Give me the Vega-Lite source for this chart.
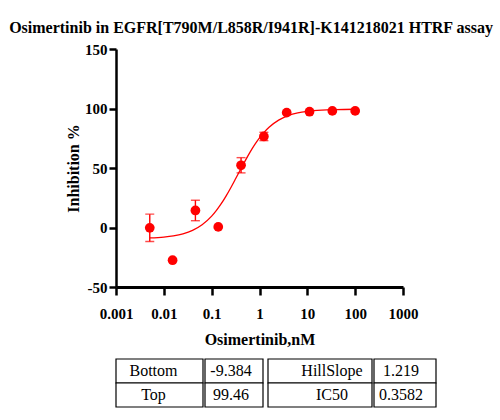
{
  "$schema": "https://vega.github.io/schema/vega-lite/v6.json",
  "background": "white",
  "padding": {"left": 8, "top": 20, "right": 5, "bottom": 5},
  "title": {"text": "Osimertinib in EGFR[T790M/L858R/I941R]-K141218021 HTRF assay", "font": "Liberation Serif", "fontSize": 16, "fontWeight": "bold", "color": "black", "anchor": "middle", "offset": 6},
  "datasets": {
    "points": [
      {"conc": 0.00508, "inhib": -0.3, "err": 11.5},
      {"conc": 0.01524, "inhib": -27.5, "err": 0},
      {"conc": 0.04572, "inhib": 14.3, "err": 8.6},
      {"conc": 0.1372, "inhib": 0.5, "err": 0},
      {"conc": 0.4115, "inhib": 52.3, "err": 6.4},
      {"conc": 1.235, "inhib": 76.5, "err": 3.5},
      {"conc": 3.704, "inhib": 96.5, "err": 0},
      {"conc": 11.11, "inhib": 97.3, "err": 0},
      {"conc": 33.33, "inhib": 98.0, "err": 0},
      {"conc": 100, "inhib": 98.0, "err": 0}
    ],
    "curve": [
      {"conc": 0.00508, "inhib": -8.78},
      {"conc": 0.01, "inhib": -8.01},
      {"conc": 0.01585, "inhib": -7.0},
      {"conc": 0.02512, "inhib": -5.28},
      {"conc": 0.03981, "inhib": -2.39},
      {"conc": 0.0631, "inhib": 2.32},
      {"conc": 0.1, "inhib": 9.59},
      {"conc": 0.1259, "inhib": 14.4},
      {"conc": 0.1585, "inhib": 20.02},
      {"conc": 0.1995, "inhib": 26.42},
      {"conc": 0.2512, "inhib": 33.45},
      {"conc": 0.3162, "inhib": 40.92},
      {"conc": 0.3981, "inhib": 48.55},
      {"conc": 0.5012, "inhib": 56.03},
      {"conc": 0.631, "inhib": 63.11},
      {"conc": 0.7943, "inhib": 69.56},
      {"conc": 1.0, "inhib": 75.25},
      {"conc": 1.259, "inhib": 80.13},
      {"conc": 1.585, "inhib": 84.19},
      {"conc": 2.512, "inhib": 90.19},
      {"conc": 3.981, "inhib": 93.97},
      {"conc": 6.31, "inhib": 96.26},
      {"conc": 10.0, "inhib": 97.61},
      {"conc": 19.95, "inhib": 98.66},
      {"conc": 39.81, "inhib": 99.11},
      {"conc": 100, "inhib": 99.35}
    ],
    "table": [
      {"col": "c1", "row": 1, "text": "Bottom"},
      {"col": "c1", "row": 2, "text": "Top"},
      {"col": "c2", "row": 1, "text": "-9.384"},
      {"col": "c2", "row": 2, "text": "99.46"},
      {"col": "c3", "row": 1, "text": "HillSlope"},
      {"col": "c3", "row": 2, "text": "IC50"},
      {"col": "c4", "row": 1, "text": "1.219"},
      {"col": "c4", "row": 2, "text": "0.3582"}
    ]
  },
  "spacing": 72,
  "bounds": "flush",
  "vconcat": [
    {
      "width": 287,
      "height": 238,
      "encoding": {
        "x": {"field": "conc", "type": "quantitative", "title": "Osimertinib,nM",
          "scale": {"type": "log", "domain": [0.001, 1000]},
          "axis": {"values": [0.001, 0.01, 0.1, 1, 10, 100, 1000], "format": "~g", "grid": false,
            "domainColor": "black", "domainWidth": 3, "tickColor": "black", "tickWidth": 2.5, "tickSize": 8,
            "labelFont": "Liberation Serif", "labelFontSize": 15, "labelFontWeight": "bold", "labelColor": "black",
            "labelPadding": 11, "labelFlush": false, "labelOverlap": false,
            "titleFont": "Liberation Serif", "titleFontSize": 16, "titleFontWeight": "bold", "titleColor": "black", "titlePadding": 10}},
        "y": {"field": "inhib", "type": "quantitative", "title": "Inhibition %",
          "scale": {"domain": [-50, 150]},
          "axis": {"values": [-50, 0, 50, 100, 150], "labelExpr": "'' + datum.value", "grid": false,
            "domainColor": "black", "domainWidth": 2.5, "tickColor": "black", "tickWidth": 2.5, "tickSize": 7,
            "labelFont": "Liberation Serif", "labelFontSize": 15, "labelFontWeight": "bold", "labelColor": "black",
            "labelPadding": 2, "labelFlush": false, "labelOverlap": false,
            "titleFont": "Liberation Serif", "titleFontSize": 16, "titleFontWeight": "bold", "titleColor": "black", "titlePadding": 3}}
      },
      "layer": [
        {"data": {"name": "curve"}, "mark": {"type": "line", "color": "#ff0000", "strokeWidth": 1.3, "interpolate": "monotone"}},
        {"data": {"name": "points"}, "transform": [{"filter": "datum.err > 0"}],
          "mark": {"type": "errorbar", "color": "#ff0000", "thickness": 1.4, "ticks": {"size": 9, "color": "#ff0000"}},
          "encoding": {"yError": {"field": "err"}}},
        {"data": {"name": "points"}, "mark": {"type": "point", "filled": true, "size": 95, "color": "#ff0000", "opacity": 1}}
      ]
    },
    {
      "spacing": 3,
      "hconcat": [
        {
          "spacing": 0,
          "hconcat": [
            {"width": 87, "height": 48, "data": {"name": "table"}, "transform": [{"filter": "datum.col == 'c1'"}],
              "encoding": {"y": {"field": "row", "type": "ordinal", "axis": null, "scale": {"paddingInner": 0, "paddingOuter": 0}}},
              "layer": [
                {"mark": {"type": "rect", "fill": "white", "stroke": "black", "strokeWidth": 1.2}, "encoding": {"x": {"value": 0}, "x2": {"value": "width"}}},
                {"mark": {"type": "text", "font": "Liberation Serif", "fontSize": 16, "color": "black", "align": "center", "dx": -6}, "encoding": {"text": {"field": "text"}}}
              ]},
            {"width": 58, "height": 48, "data": {"name": "table"}, "transform": [{"filter": "datum.col == 'c2'"}],
              "encoding": {"y": {"field": "row", "type": "ordinal", "axis": null, "scale": {"paddingInner": 0, "paddingOuter": 0}}},
              "layer": [
                {"mark": {"type": "rect", "fill": "white", "stroke": "black", "strokeWidth": 1.2}, "encoding": {"x": {"value": 0}, "x2": {"value": "width"}}},
                {"mark": {"type": "text", "font": "Liberation Serif", "fontSize": 16, "color": "black", "align": "center", "dx": -3}, "encoding": {"text": {"field": "text"}}}
              ]}
          ]
        },
        {
          "spacing": 0,
          "hconcat": [
            {"width": 104, "height": 48, "data": {"name": "table"}, "transform": [{"filter": "datum.col == 'c3'"}],
              "encoding": {"y": {"field": "row", "type": "ordinal", "axis": null, "scale": {"paddingInner": 0, "paddingOuter": 0}}},
              "layer": [
                {"mark": {"type": "rect", "fill": "white", "stroke": "black", "strokeWidth": 1.2}, "encoding": {"x": {"value": 0}, "x2": {"value": "width"}}},
                {"mark": {"type": "text", "font": "Liberation Serif", "fontSize": 16, "color": "black", "align": "center", "dx": 12}, "encoding": {"text": {"field": "text"}}}
              ]},
            {"width": 62, "height": 48, "data": {"name": "table"}, "transform": [{"filter": "datum.col == 'c4'"}],
              "encoding": {"y": {"field": "row", "type": "ordinal", "axis": null, "scale": {"paddingInner": 0, "paddingOuter": 0}}},
              "layer": [
                {"mark": {"type": "rect", "fill": "white", "stroke": "black", "strokeWidth": 1.2}, "encoding": {"x": {"value": 0}, "x2": {"value": "width"}}},
                {"mark": {"type": "text", "font": "Liberation Serif", "fontSize": 16, "color": "black", "align": "center", "dx": -4}, "encoding": {"text": {"field": "text"}}}
              ]}
          ]
        }
      ]
    }
  ],
  "config": {"view": {"stroke": null}}
}
